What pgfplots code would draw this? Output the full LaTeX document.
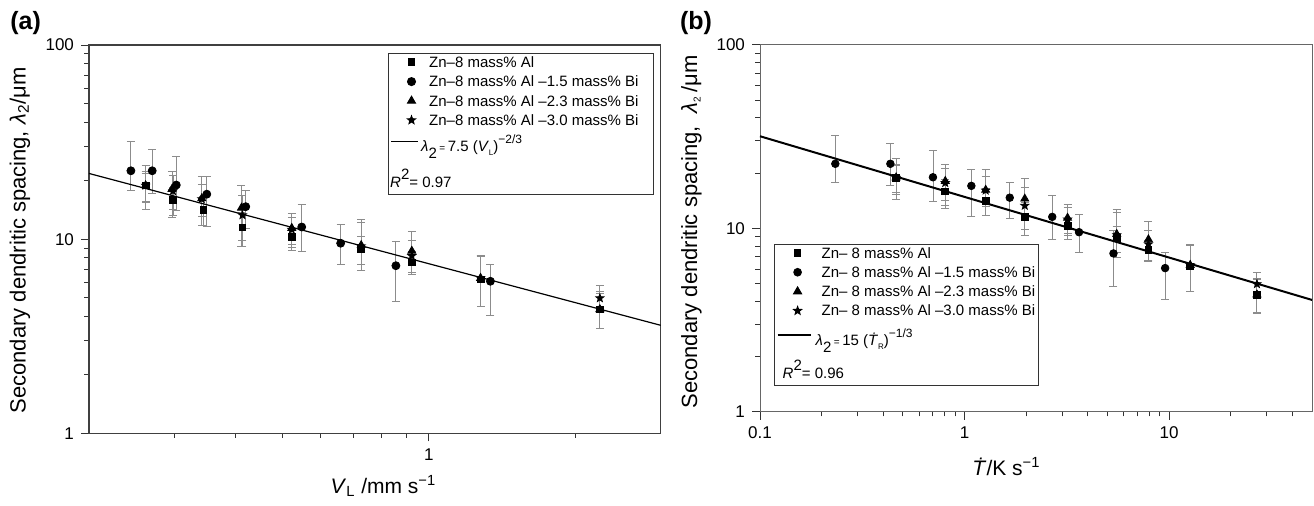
\documentclass[border=0pt]{standalone}
\usepackage{fontspec}
\setmainfont{Liberation Sans}
\usepackage{pgfplots}
\pgfplotsset{compat=1.18}
\usepackage{pgfplotstable}
\usetikzlibrary{plotmarks}

% filled five-point star
\pgfdeclareplotmark{fstar}{%
  \pgfpathmoveto{\pgfpointpolar{90}{\pgfplotmarksize}}%
  \pgfpathlineto{\pgfpointpolar{126}{0.42\pgfplotmarksize}}%
  \pgfpathlineto{\pgfpointpolar{162}{\pgfplotmarksize}}%
  \pgfpathlineto{\pgfpointpolar{198}{0.42\pgfplotmarksize}}%
  \pgfpathlineto{\pgfpointpolar{234}{\pgfplotmarksize}}%
  \pgfpathlineto{\pgfpointpolar{270}{0.42\pgfplotmarksize}}%
  \pgfpathlineto{\pgfpointpolar{306}{\pgfplotmarksize}}%
  \pgfpathlineto{\pgfpointpolar{342}{0.42\pgfplotmarksize}}%
  \pgfpathlineto{\pgfpointpolar{18}{\pgfplotmarksize}}%
  \pgfpathlineto{\pgfpointpolar{54}{0.42\pgfplotmarksize}}%
  \pgfpathclose
  \pgfusepathqfillstroke}

% V = growth rate (a), T = cooling rate (b), L = lambda_2, ep/em = error bars
\pgfplotstableread{
V      T      L      ep    em
0.2615 0.463  18.9   3.3   3.2
0.2977 0.805  15.9   2.5   2.6
0.3439 1.269  14.1   2.5   2.3
0.4137 1.971  11.5   2.3   2.3
0.5226 3.19   10.3   1.0   1.2
0.7261 5.55   8.9    1.4   1.5
0.9228 7.93   7.6    1.0   0.9
1.278  12.69  6.2    2.0   1.7
2.249  26.9   4.35   0.9   0.9
}\sqdata
\pgfplotstableread{
V      T      L      ep    em
0.2439 0.2335 22.5   9.5   4.7
0.2698 0.434  22.5   6.6   5.3
0.3024 0.701  19.0   7.6   4.9
0.3494 1.08   17.05  4.0   5.4
0.4202 1.664  14.7   3.2   3.4
0.5478 2.685  11.55  3.6   2.9
0.6588 3.63   9.53   2.4   2.1
0.8558 5.35   7.3    2.4   2.5
1.339  9.57   6.07   1.3   2.0
}\circdata
\pgfplotstableread{
V      T      L      ep    em
0.2615 0.463  18.9   5.2   4.6
0.2963 0.805  18.1   4.1   5.2
0.3412 1.269  16.2   4.8   4.5
0.4118 1.971  14.5   4.3   5.3
0.5226 3.19   11.4   2.1   2.7
0.7261 5.55   9.3    3.4   2.4
0.9228 7.93   8.7    2.2   2.1
1.278  12.69  6.3    1.9   1.8
2.249  26.9   4.35   1.0   0.9
}\tridata
\pgfplotstableread{
V      T      L      ep    em
0.2615 0.463  18.9   3.0   3.5
0.2977 0.805  17.7   3.5   3.5
0.3412 1.269  16.1   3.0   3.0
0.4137 1.971  13.3   3.5   3.4
0.5226 3.19   11.2   1.8   1.8
0.7261 5.55   9.2    3.0   2.3
0.9228 7.93   8.2    1.6   1.5
1.278  12.69  6.3    1.8   1.8
2.249  26.9   4.97   0.8   1.5
}\stardata

\pgfplotsset{
  every axis/.append style={
    scale only axis,
    ymin=1, ymax=100,
    ytick={1,10,100}, yticklabels={1,10,100},
    minor ytick={2,3,4,5,6,7,8,9,20,30,40,50,60,70,80,90},
    tick align=outside, xtick pos=bottom, ytick pos=left,
    major tick length=4pt, minor tick length=2.3pt,
    tick style={black!80, line width=0.5pt},
    tick label style={font=\fontsize{8.5}{10}\selectfont},
    label style={font=\fontsize{11}{13}\selectfont},
    legend image post style={xshift=3pt, yshift=2.6pt},
    clip=false,
  },
  every axis legend/.append style={draw=black!80, line width=0.5pt, fill=white,
    font=\fontsize{7.5}{8.6}\selectfont,
    inner xsep=0pt, inner ysep=0.5pt, row sep=0pt,
    cells={anchor=base west},
    /tikz/every odd column/.append style={column sep=4pt},
    nodes={inner sep=1.1pt, text depth=0.2em}},
  pts/.style={only marks, black, mark size=#1,
    error bars/y dir=both, error bars/y explicit,
    error bars/error bar style={black!45, line width=0.45pt},
    error bars/error mark options={rotate=90, mark size=2pt, black!45, line width=0.45pt}},
}

\begin{document}
\begin{tikzpicture}
\path[use as bounding box] (0pt,0pt) rectangle (657pt,-252.5pt);

\node[font=\bfseries\fontsize{12.5}{14}\selectfont] at (12.8pt,-11.5pt) {(a)};
\node[font=\bfseries\fontsize{12.5}{14}\selectfont] at (348pt,-11.5pt) {(b)};

% ---------------- (a) ----------------
\begin{loglogaxis}[
  at={(44.5pt,-216.65pt)}, anchor=south west,
  width=285.85pt, height=194.15pt,
  xmin=0.2, xmax=3,
  xtick={1}, xticklabels={1},
  minor xtick={0.3,0.4,0.5,0.6,0.7,0.8,0.9,2},
  axis line style={black!75, line width=0.6pt},
  xlabel={\fontsize{10.5}{12}\selectfont\textit{V}\textsubscript{L} /mm s\textsuperscript{−1}},
  xlabel style={at={(axis description cs:0.515,-0.135)}, anchor=center},
  ylabel={Secondary dendritic spacing, \textit{λ}\textsubscript{2}/μm},
  ylabel style={at={(axis description cs:-0.121,0.497)}, anchor=center},
  legend style={at={(0.9886,0.9795)}, anchor=north east},
]
\addplot[pts=1.7pt, mark=square*] table[x=V, y=L, y error plus=ep, y error minus=em] {\sqdata};
\addlegendentry{Zn–8 mass\% Al}
\addplot[pts=2pt, mark=*] table[x=V, y=L, y error plus=ep, y error minus=em] {\circdata};
\addlegendentry{Zn–8 mass\% Al –1.5 mass\% Bi}
\addplot[pts=2.3pt, mark=triangle*] table[x=V, y=L, y error plus=ep, y error minus=em] {\tridata};
\addlegendentry{Zn–8 mass\% Al –2.3 mass\% Bi}
\addplot[pts=2.1pt, mark=fstar] table[x=V, y=L, y error plus=ep, y error minus=em] {\stardata};
\addlegendentry{Zn–8 mass\% Al –3.0 mass\% Bi\rule{6.5pt}{0pt}}
\addplot[black, line width=0.6pt,
  legend image code/.code={\draw[black, line width=0.6pt] (-1.5pt,2.6pt) -- (12pt,2.6pt);}]
  coordinates {(0.2,21.8) (3,3.6)};
\addlegendentry{\hspace*{-4pt}\rule{0pt}{9pt}\textit{λ}\raisebox{-3.5pt}{2}\,{\fontsize{5}{5}\selectfont =}\,7.5 (\textit{V}\raisebox{-2pt}{\fontsize{4}{4}\selectfont L})\raisebox{4pt}{\fontsize{6}{6}\selectfont −2/3}}
\addlegendimage{empty legend}
\addlegendentry{\hspace*{-19.5pt}\rule{0pt}{13.5pt}\textit{R}\raisebox{4pt}{2}= 0.97}
\end{loglogaxis}

% ---------------- (b) ----------------
\begin{loglogaxis}[
  at={(380pt,-205.85pt)}, anchor=south west,
  width=276pt, height=183.35pt,
  xmin=0.1, xmax=50,
  xtick={0.1,1,10}, xticklabels={0.1,1,10},
  minor xtick={0.2,0.3,0.4,0.5,0.6,0.7,0.8,0.9,2,3,4,5,6,7,8,9,20,30,40},
  axis line style={black!60, line width=0.5pt},
  xlabel={\fontsize{10.5}{12}\selectfont\textit{\.{T}}/K s\textsuperscript{−1}},
  xlabel style={at={(axis description cs:0.4465,-0.15)}, anchor=center},
  ylabel={Secondary dendritic spacing,\ \ \textit{λ}\textsubscript{\fontsize{5}{5}\selectfont 2}\,/μm},
  ylabel style={at={(axis description cs:-0.124,0.49)}, anchor=center},
  legend style={at={(0.0254,0.0688)}, anchor=south west},
]
\addplot[pts=1.7pt, mark=square*] table[x=T, y=L, y error plus=ep, y error minus=em] {\sqdata};
\addlegendentry{Zn– 8 mass\% Al}
\addplot[pts=1.9pt, mark=*] table[x=T, y=L, y error plus=ep, y error minus=em] {\circdata};
\addlegendentry{Zn– 8 mass\% Al –1.5 mass\% Bi}
\addplot[pts=2.3pt, mark=triangle*] table[x=T, y=L, y error plus=ep, y error minus=em] {\tridata};
\addlegendentry{Zn– 8 mass\% Al –2.3 mass\% Bi}
\addplot[pts=2.1pt, mark=fstar] table[x=T, y=L, y error plus=ep, y error minus=em] {\stardata};
\addlegendentry{Zn– 8 mass\% Al –3.0 mass\% Bi\rule{0.5pt}{0pt}}
\addplot[black, line width=1pt,
  legend image code/.code={\draw[black, line width=1pt] (-1.5pt,2.6pt) -- (15pt,2.6pt);}]
  coordinates {(0.1,31.8) (50,4.07)};
\addlegendentry{\hspace*{-3pt}\rule{0pt}{10.5pt}\textit{λ}\raisebox{-3.5pt}{2}\,{\fontsize{5}{5}\selectfont =}\,15 (\textit{\.{T}}\raisebox{-2pt}{\fontsize{4}{4}\selectfont R})\raisebox{4pt}{\fontsize{6}{6}\selectfont −1/3}}
\addlegendimage{empty legend}
\addlegendentry{\hspace*{-19.5pt}\rule{0pt}{12.5pt}\textit{R}\raisebox{4pt}{2}= 0.96}
\end{loglogaxis}
\end{tikzpicture}
\end{document}
